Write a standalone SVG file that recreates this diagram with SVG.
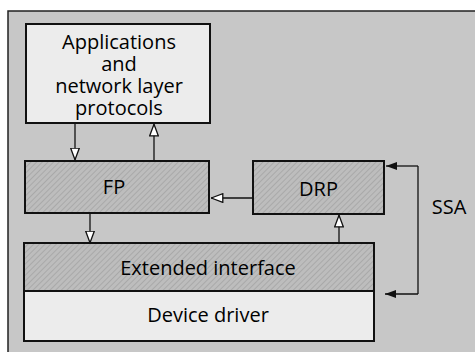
<svg xmlns="http://www.w3.org/2000/svg" width="475" height="352" viewBox="0 0 475 352">
<style>
text{font-family:"Open Sans","Liberation Sans",sans-serif;font-size:20px;fill:#000;text-anchor:middle}
.box{stroke:#111;stroke-width:2}
.light{fill:#ececec}
.hatch{fill:url(#hatch)}
.conn{stroke:#111;stroke-width:1.3;fill:none}
</style>
<defs>
<pattern id="hatch" width="4" height="4" patternUnits="userSpaceOnUse" patternTransform="rotate(45)">
<rect width="4" height="4" fill="#bdbdbd"/>
<line x1="0" y1="0" x2="0" y2="4" stroke="#9c9c9c" stroke-width="1.2"/>
</pattern>
<marker id="hollow" viewBox="0 0 13 10" refX="12.5" refY="5" markerWidth="13" markerHeight="10" markerUnits="userSpaceOnUse" orient="auto">
<path d="M0.7,0.7 L12.3,5 L0.7,9.3 Z" fill="#fff" stroke="#111" stroke-width="1.3"/>
</marker>
<marker id="filled" viewBox="0 0 11 8" refX="11" refY="4" markerWidth="11" markerHeight="8" markerUnits="userSpaceOnUse" orient="auto">
<path d="M0,0 L11,4 L0,8 Z" fill="#111"/>
</marker>
</defs>
<rect x="8" y="11" width="480" height="350" fill="#c7c7c7" stroke="#222" stroke-width="1.5"/>
<g id="connectors">
<line class="conn" x1="75" y1="123" x2="75" y2="160" marker-end="url(#hollow)"/>
<line class="conn" x1="154" y1="161" x2="154" y2="124" marker-end="url(#hollow)"/>
<line class="conn" x1="253" y1="198" x2="211" y2="198" marker-end="url(#hollow)"/>
<line class="conn" x1="90" y1="213" x2="90" y2="243" marker-end="url(#hollow)"/>
<line class="conn" x1="339" y1="243" x2="339" y2="215" marker-end="url(#hollow)"/>
<path class="conn" d="M418,166 V294" stroke-width="1.8"/>
<line class="conn" x1="418" y1="166" x2="386" y2="166" stroke-width="1.8" marker-end="url(#filled)"/>
<line class="conn" x1="418" y1="294" x2="385" y2="294" stroke-width="1.8" marker-end="url(#filled)"/>
<text x="449" y="214">SSA</text>
</g>
<g id="apps">
<rect class="box light" x="26" y="24" width="184" height="99"/>
<text x="119" y="49"><tspan x="119" y="49">Applications</tspan><tspan x="119" y="71">and</tspan><tspan x="119" y="93">network layer</tspan><tspan x="119" y="115">protocols</tspan></text>
</g>
<g id="fp">
<rect class="box hatch" x="25" y="161" width="184" height="52"/>
<text x="114" y="194">FP</text>
</g>
<g id="drp">
<rect class="box hatch" x="253" y="161" width="131" height="53"/>
<text x="318.5" y="196">DRP</text>
</g>
<g id="ext">
<rect class="box hatch" x="24" y="243" width="350" height="48"/>
<text x="208" y="275">Extended interface</text>
</g>
<g id="dev">
<rect class="box light" x="24" y="291" width="350" height="50"/>
<text x="208" y="322">Device driver</text>
</g>
</svg>
